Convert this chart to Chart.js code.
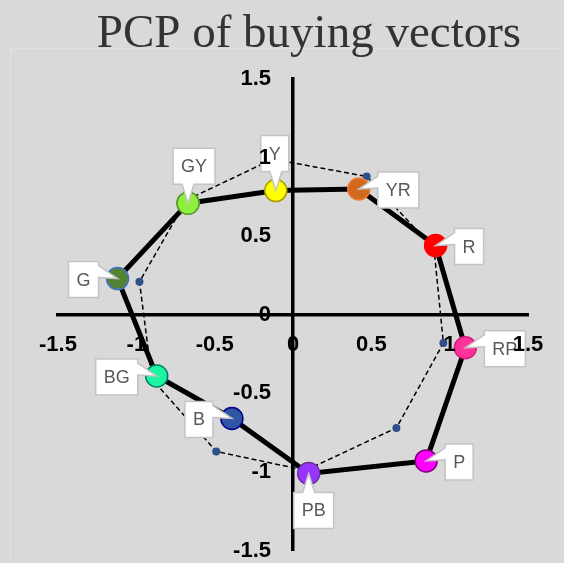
<!DOCTYPE html>
<html>
<head>
<meta charset="utf-8">
<script src="https://cdn.jsdelivr.net/npm/chart.js@4.4.1/dist/chart.umd.min.js"></script>
<style>
  html, body { margin: 0; padding: 0; background: #d9d9d9; }
</style>
</head>
<body>
<canvas id="pcpChart" width="564" height="563"></canvas>
<script>
// colour names, in the order the solid polygon visits them
const colourNames = ['GY', 'Y', 'YR', 'R', 'RP', 'P', 'PB', 'B', 'BG', 'G'];
// buying vectors (solid polygon)
const buyX = [-0.67, -0.11, 0.42, 0.91, 1.10, 0.85, 0.10, -0.39, -0.87, -1.12];
const buyY = [0.71, 0.79, 0.80, 0.44, -0.21, -0.93, -1.01, -0.66, -0.39, 0.23];
// reference vectors (dashed polygon)
const refX = [-0.68, -0.13, 0.47, 0.90, 0.96, 0.66, 0.08, -0.49, -0.90, -0.98];
const refY = [0.73, 0.99, 0.88, 0.42, -0.18, -0.72, -0.99, -0.87, -0.41, 0.21];
// axis ticks, same on both axes
const tickValues = [-1.5, -1, -0.5, 0, 0.5, 1, 1.5];

// marker colours for each colour name
const markerFill = ['#8df03c', '#ffff00', '#d2691e', '#ff0000', '#ff3399', '#ff00ff', '#9933ff', '#2f55a5', '#1ef5a0', '#548235'];
const markerEdge = ['#5e9e2e', '#b09a00', '#ed7d31', '#ff0000', '#d81b7a', '#7b007b', '#7030a0', '#00008b', '#00806a', '#4472c4'];
// where each callout box sits relative to its marker
const calloutSide = ['above', 'above', 'right', 'right', 'right', 'right', 'below', 'left', 'left', 'left'];

// close a polygon by repeating the first point
function closedPoints(xs, ys) {
    const pts = xs.map((x, i) => ({ x: x, y: ys[i] }));
    pts.push(pts[0]);
    return pts;
}

// grey background, faint plot-area frame and the title
const backdrop = {
    id: 'backdrop',
    beforeDraw: (chart) => {
        const ctx = chart.ctx;
        ctx.save();
        ctx.fillStyle = '#d9d9d9';
        ctx.fillRect(0, 0, chart.width, chart.height);
        ctx.strokeStyle = '#e2e2e2';
        ctx.lineWidth = 1;
        ctx.strokeRect(10.5, 48.5, chart.width, chart.height);
        ctx.fillStyle = '#333333';
        ctx.font = '47px "Liberation Serif"';
        ctx.textAlign = 'center';
        ctx.textBaseline = 'alphabetic';
        ctx.fillText('PCP of buying vectors', 309, 47);
        ctx.restore();
    }
};

// white callout boxes with a pointer into the marker
const callouts = {
    id: 'callouts',
    afterDatasetsDraw: (chart) => {
        const ctx = chart.ctx;
        const points = chart.getDatasetMeta(0).data;
        ctx.save();
        ctx.font = '18px "Liberation Sans"';
        colourNames.forEach((name, i) => {
            const px = points[i].x, py = points[i].y;
            const w = Math.round(ctx.measureText(name).width) + 16;
            const h = 36;
            const gap = 19;
            const side = calloutSide[i];
            let l, t;
            if (side === 'right') { l = px + gap; t = py + 1 - h / 2; }
            else if (side === 'left') { l = px - gap - w; t = py + 1 - h / 2; }
            else if (side === 'above') { l = px - 15; t = py - gap - h; }
            else { l = px - 15; t = py + gap; }
            const r = l + w, b = t + h;

            ctx.beginPath();
            ctx.moveTo(l, t);
            if (side === 'below') { ctx.lineTo(l + 9, t); ctx.lineTo(px, py); ctx.lineTo(l + 21, t); }
            ctx.lineTo(r, t);
            if (side === 'left') { ctx.lineTo(r, t + 4); ctx.lineTo(px, py); ctx.lineTo(r, t + 16); }
            ctx.lineTo(r, b);
            if (side === 'above') { ctx.lineTo(l + 21, b); ctx.lineTo(px, py); ctx.lineTo(l + 9, b); }
            ctx.lineTo(l, b);
            if (side === 'right') { ctx.lineTo(l, t + 16); ctx.lineTo(px, py); ctx.lineTo(l, t + 4); }
            ctx.closePath();
            ctx.fillStyle = '#ffffff';
            ctx.fill();
            ctx.strokeStyle = '#c4c4c4';
            ctx.lineWidth = 1.5;
            ctx.stroke();

            ctx.fillStyle = '#595959';
            ctx.textAlign = 'center';
            ctx.textBaseline = 'middle';
            ctx.fillText(name, l + w / 2, t + h / 2 + 1);
        });
        ctx.restore();
    }
};

const tickFont = { family: 'Liberation Sans', size: 22, weight: 'bold' };

function axisOptions(crossAt, pad, labelFmt) {
    return {
        type: 'linear',
        min: -1.5,
        max: 1.5,
        position: crossAt,
        afterBuildTicks: (scale) => { scale.ticks = tickValues.map(v => ({ value: v })); },
        // axes sit inside the plot, so their label overhang should not shrink it
        afterFit: (scale) => {
            scale.paddingTop = 0;
            scale.paddingBottom = 0;
            scale.paddingLeft = 0;
            scale.paddingRight = 0;
        },
        grid: { display: false, drawTicks: false },
        border: { display: true, color: '#000000', width: 3.5 },
        ticks: {
            z: 1, // tick labels go over the callouts
            color: '#000000',
            font: tickFont,
            padding: pad,
            autoSkip: false,
            maxRotation: 0,
            callback: labelFmt
        }
    };
}

const solidPts = closedPoints(buyX, buyY);
const dashPts = closedPoints(refX, refY);

new Chart(document.getElementById('pcpChart'), {
    type: 'scatter',
    data: {
        datasets: [{
            label: 'buying vectors',
            data: solidPts,
            showLine: true,
            borderColor: '#000000',
            borderWidth: 5,
            pointRadius: 11,
            pointBorderWidth: 1.5,
            pointBackgroundColor: solidPts.map((p, i) => markerFill[i % markerFill.length]),
            pointBorderColor: solidPts.map((p, i) => markerEdge[i % markerEdge.length])
        }, {
            label: 'reference',
            data: dashPts,
            showLine: true,
            borderColor: '#000000',
            borderWidth: 1.5,
            borderDash: [5, 3],
            pointRadius: 4,
            pointBorderWidth: 0,
            pointBackgroundColor: '#2f4f8c'
        }]
    },
    options: {
        responsive: false,
        animation: false,
        events: [],
        layout: { padding: { left: 58, right: 36, top: 79, bottom: 10 } },
        scales: {
            x: axisOptions({ y: 0 }, 17, (v) => String(v)),
            // y labels sit on the axis pixel itself, an em space keeps them off the line
            y: axisOptions({ x: 0 }, 0, (v) => String(v) + '\u2003')
        },
        plugins: {
            legend: { display: false },
            title: { display: false },
            tooltip: { enabled: false }
        }
    },
    plugins: [backdrop, callouts]
});
</script>
</body>
</html>
